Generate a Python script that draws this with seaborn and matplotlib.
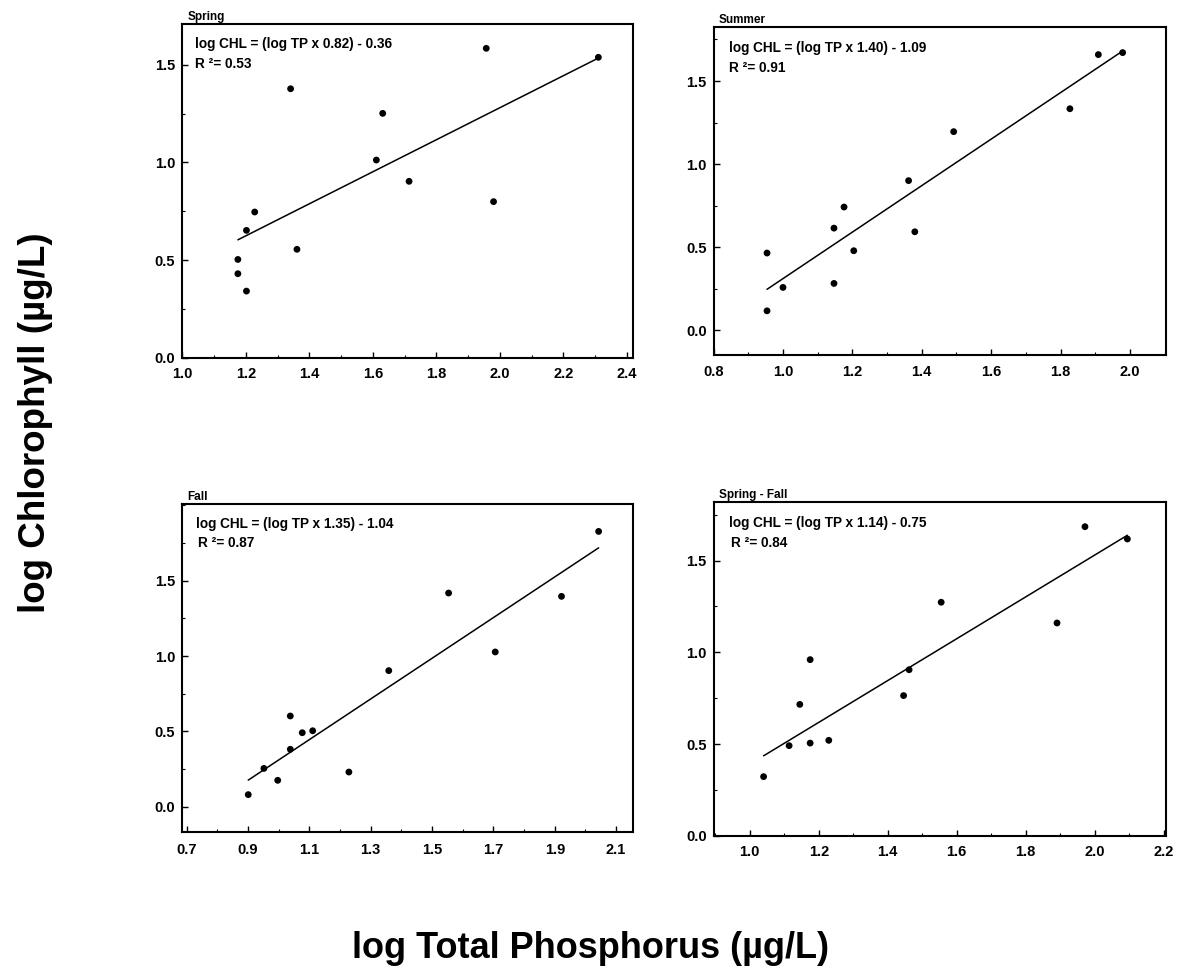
import numpy as np
import pandas as pd
import matplotlib
matplotlib.use("Agg")
import matplotlib.pyplot as plt
from matplotlib.ticker import MultipleLocator, FormatStrFormatter
from matplotlib.transforms import offset_copy
import seaborn as sns

# ---------------- data ----------------
panels = ["Spring", "Summer", "Fall", "Spring - Fall"]

spring_tp = [1.957, 2.310, 1.341, 1.631, 1.611, 1.714, 1.980, 1.228, 1.202, 1.361, 1.175, 1.175, 1.202]
spring_chl = [1.584, 1.538, 1.377, 1.251, 1.012, 0.903, 0.799, 0.746, 0.652, 0.555, 0.503, 0.430, 0.341]

summer_tp = [1.979, 1.909, 1.827, 1.492, 1.362, 1.176, 1.147, 1.380, 1.204, 0.954, 1.147, 1.000, 0.954]
summer_chl = [1.671, 1.659, 1.333, 1.195, 0.900, 0.741, 0.614, 0.592, 0.478, 0.464, 0.281, 0.257, 0.116]

fall_tp = [2.043, 1.554, 1.922, 1.706, 1.359, 1.038, 1.111, 1.077, 1.038, 0.952, 1.229, 0.997, 0.901]
fall_chl = [1.827, 1.418, 1.396, 1.027, 0.903, 0.602, 0.504, 0.491, 0.381, 0.254, 0.230, 0.175, 0.080]

springfall_tp = [1.972, 2.095, 1.555, 1.891, 1.175, 1.462, 1.446, 1.145, 1.229, 1.175, 1.114, 1.040]
springfall_chl = [1.685, 1.618, 1.273, 1.160, 0.960, 0.905, 0.764, 0.716, 0.520, 0.505, 0.491, 0.322]

slopes = [0.82, 1.40, 1.35, 1.14]
intercepts = [-0.36, -1.09, -1.04, -0.75]
r2_values = [0.53, 0.91, 0.87, 0.84]

y_tick_values = [0.0, 0.5, 1.0, 1.5]

x_label = "log Total Phosphorus (µg/L)"
y_label = "log Chlorophyll (µg/L)"

# ---------------- build tidy table ----------------
frames = []
for name, tp, chl in zip(panels,
                         [spring_tp, summer_tp, fall_tp, springfall_tp],
                         [spring_chl, summer_chl, fall_chl, springfall_chl]):
    frames.append(pd.DataFrame({"panel": name, "tp": tp, "chl": chl}))
df = pd.concat(frames, ignore_index=True)

# ---------------- style ----------------
sns.set_style("ticks")
plt.rcParams["font.family"] = ["Liberation Sans", "DejaVu Sans"]
plt.rcParams["font.weight"] = "bold"
plt.rcParams["axes.linewidth"] = 1.5
for key in ["text.color", "axes.labelcolor", "xtick.color", "ytick.color", "axes.edgecolor"]:
    plt.rcParams[key] = "black"

W, H = 1182, 974
fig = plt.figure(figsize=(W / 100, H / 100), dpi=100)

# axes boxes in pixels: left, top, right, bottom
boxes_px = [
    (182.3, 24.3, 633.3, 357.7),
    (713.6, 26.7, 1166.0, 355.0),
    (182.3, 504.3, 633.3, 832.3),
    (713.6, 502.3, 1166.0, 835.7),
]
xlims = [(1.0, 2.42), (0.8, 2.104), (0.686, 2.156), (0.895, 2.207)]
ylims = [(0.0, 1.707), (-0.15, 1.827), (-0.17, 2.007), (0.0, 1.818)]
xmajor = [(1.0, 0.2), (0.8, 0.2), (0.7, 0.2), (1.0, 0.2)]
xpads = [7, 7, 8, 7]
eq_offsets = [((13, -20), (13, -40)), ((15.6, -21), (15.6, -41)),
              ((14, -20), (16, -39)), ((15.6, -20.4), (17, -41))]

for i, name in enumerate(panels):
    l, t, r, b = boxes_px[i]
    ax = fig.add_axes([l / W, 1 - b / H, (r - l) / W, (b - t) / H])
    sub = df[df["panel"] == name]
    sns.scatterplot(data=sub, x="tp", y="chl", ax=ax, color="black",
                    s=24, edgecolor="none", linewidth=0, legend=False)
    xs = np.array([sub["tp"].min(), sub["tp"].max()])
    line_df = pd.DataFrame({"tp": xs, "chl": slopes[i] * xs + intercepts[i]})
    sns.lineplot(data=line_df, x="tp", y="chl", ax=ax, color="black",
                 linewidth=1.1, legend=False)

    ax.set_xlim(*xlims[i])
    ax.set_ylim(*ylims[i])
    start, step = xmajor[i]
    ax.set_xticks(np.round(np.arange(start, xlims[i][1] + 1e-9, step), 2))
    ax.xaxis.set_minor_locator(MultipleLocator(0.1))
    ax.set_yticks(y_tick_values)
    ax.yaxis.set_minor_locator(MultipleLocator(0.25))
    ax.xaxis.set_major_formatter(FormatStrFormatter("%.1f"))
    ax.yaxis.set_major_formatter(FormatStrFormatter("%.1f"))
    ax.tick_params(which="major", direction="in", length=4, width=1.0,
                   labelsize=10.5, color="black", labelcolor="black")
    ax.tick_params(which="minor", direction="in", length=2.5, width=0.8, color="black")
    ax.tick_params(axis="x", which="major", pad=xpads[i])
    ax.tick_params(axis="y", which="major", pad=5)
    for lab in ax.get_xticklabels() + ax.get_yticklabels():
        lab.set_fontweight("bold")
    for sp in ax.spines.values():
        sp.set_visible(True)
        sp.set_linewidth(1.5)
        sp.set_color("black")
    ax.set_xlabel("")
    ax.set_ylabel("")
    ax.set_facecolor("white")

    # panel title
    ax.text(0, 1, name, transform=offset_copy(ax.transAxes, fig=fig, x=5, y=4, units="dots"),
            ha="left", va="baseline", fontsize=8.5, fontweight="bold", color="black")
    # equation and R^2
    (ex, ey), (rx, ry) = eq_offsets[i]
    ax.text(0, 1, f"log CHL = (log TP x {slopes[i]:.2f}) - {abs(intercepts[i]):.2f}",
            transform=offset_copy(ax.transAxes, fig=fig, x=ex, y=ey, units="dots"),
            ha="left", va="center", fontsize=9.8, fontweight="bold", color="black")
    ax.text(0, 1, f"R ²= {r2_values[i]:.2f}",
            transform=offset_copy(ax.transAxes, fig=fig, x=rx, y=ry, units="dots"),
            ha="left", va="center", fontsize=9.8, fontweight="bold", color="black")

fig.text(36 / W, 1 - 423 / H, y_label, rotation=90, ha="center", va="center",
         fontsize=26.5, fontweight="bold", color="black")
fig.text(590 / W, 1 - 948 / H, x_label, ha="center", va="center",
         fontsize=26, fontweight="bold", color="black")

fig.savefig("out.png", dpi=100, facecolor="white")
